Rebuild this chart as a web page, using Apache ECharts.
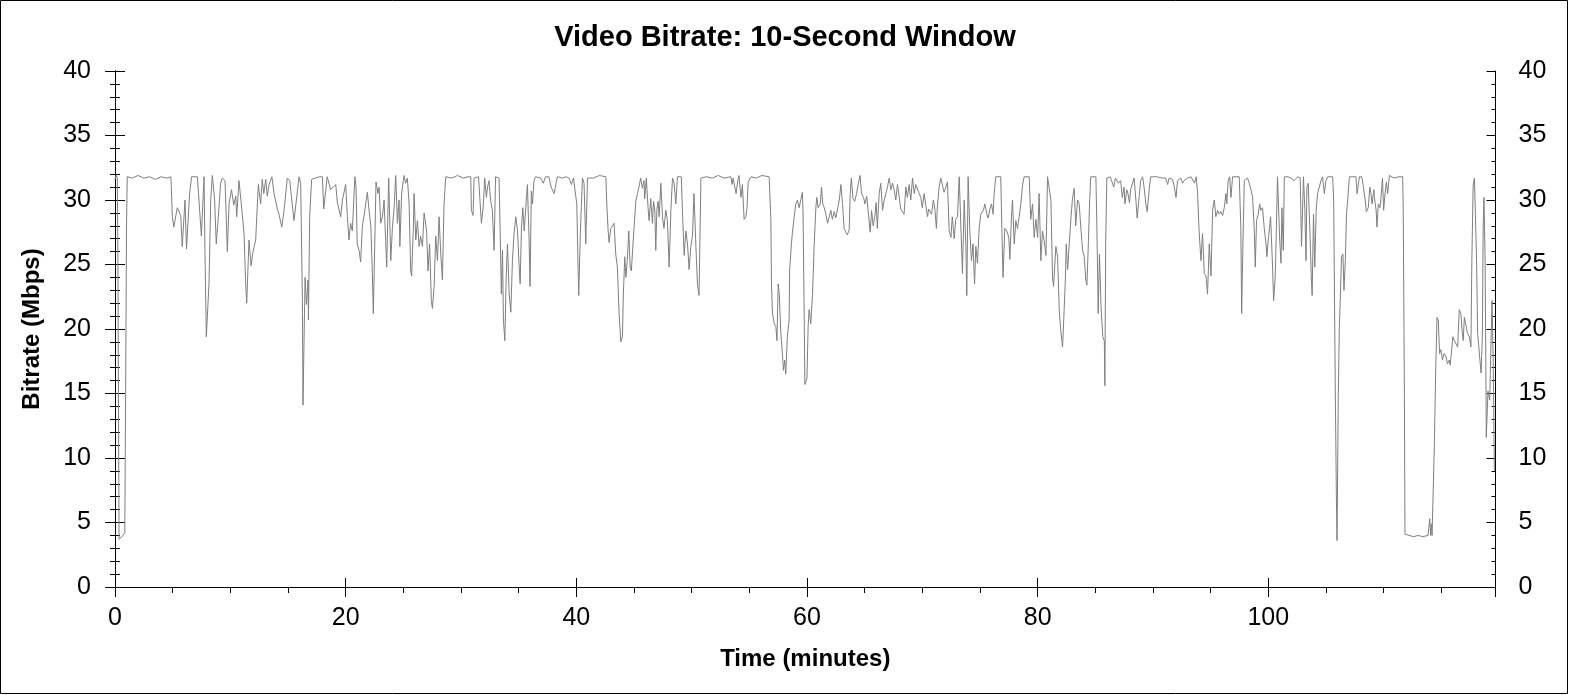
<!DOCTYPE html>
<html>
<head>
<meta charset="utf-8">
<script src="https://cdn.jsdelivr.net/npm/echarts@6/dist/echarts.min.js"></script>
<style>
html,body{margin:0;padding:0;background:#fff;}
#chart{width:1570px;height:695px;}
</style>
</head>
<body>
<div id="chart"></div>
<script>
const titleText = 'Video Bitrate: 10-Second Window';
const xName = 'Time (minutes)';
const yName = 'Bitrate (Mbps)';
const xTicks = [0, 20, 40, 60, 80, 100];
const yTicks = [0, 5, 10, 15, 20, 25, 30, 35, 40];

const minutes = [
0,0.1,0.2,0.25,0.35,0.5,0.7,0.85,0.92,1.0,1.06,1.5,2.0,2.5,3.0,3.5,4.0,4.5,4.85,
4.97,5.1,5.4,5.7,5.83,6.07,6.2,6.47,6.64,7.14,7.28,7.49,7.72,7.8,7.92,8.15,8.3,8.44,8.64,8.78,8.96,9.16,9.3,9.54,9.74,9.89,10.1,10.3,10.47,10.55,10.75,10.95,11.19,11.33,11.42,11.62,11.8,11.97,12.2,12.29,12.43,12.63,12.77,12.9,13.07,13.2,13.36,13.6,13.79,14.08,14.22,14.46,14.66,14.94,15.15,15.52,15.67,15.96,16.1,16.25,16.3,16.48,16.6,16.74,16.77,16.88,17.05,17.7,17.98,18.1,18.4,18.7,18.85,19.14,19.28,19.57,19.72,20.0,20.15,20.29,20.43,20.58,20.8,20.9,21.0,21.16,21.3,21.45,21.6,21.74,21.88,22.03,22.18,22.3,22.4,22.52,22.63,22.8,22.9,23.04,23.19,23.33,23.47,23.56,23.73,23.91,24.05,24.2,24.34,24.49,24.63,24.7,24.85,25.06,25.2,25.35,25.5,25.64,25.72,25.87,25.93,26.08,26.22,26.37,26.5,26.66,26.8,27.02,27.14,27.28,27.43,27.52,27.67,27.81,27.96,28.1,28.25,28.39,28.53,28.68,29.2,29.7,30.2,30.6,30.85,30.9,31.05,31.13,31.52,31.63,31.77,31.92,32.06,32.2,32.3,32.43,32.58,32.72,32.87,33.0,33.3,33.39,33.5,33.6,33.68,33.8,33.92,34.03,34.18,34.32,34.46,34.6,34.75,34.9,35.03,35.13,35.24,35.36,35.48,35.62,35.76,35.9,35.99,36.1,36.2,36.33,36.47,36.9,37.14,37.33,37.62,37.82,38.07,38.36,38.8,39.1,39.37,39.57,39.75,39.85,40.04,40.16,40.21,40.35,40.53,40.67,40.82,40.97,41.1,41.5,42.0,42.56,42.64,42.76,42.84,42.99,43.13,43.27,43.42,43.56,43.71,43.86,44.0,44.08,44.2,44.3,44.42,44.55,44.67,44.77,44.87,45.0,45.16,45.3,45.43,45.58,45.73,45.87,45.93,46.07,46.22,46.31,46.45,46.6,46.69,46.8,46.89,46.98,47.09,47.18,47.33,47.47,47.6,47.76,47.9,48.05,48.2,48.34,48.48,48.63,48.77,49.1,49.2,49.35,49.5,49.64,49.78,49.93,50.07,50.2,50.36,50.5,50.64,50.8,51.3,51.8,52.3,52.8,53.4,53.5,53.6,53.7,53.85,54.0,54.1,54.28,54.4,54.55,54.7,54.8,54.9,55.15,55.6,56.1,56.72,56.87,56.92,57.01,57.16,57.3,57.4,57.5,57.6,57.73,57.87,57.96,58.07,58.16,58.3,58.45,58.5,58.65,58.73,58.89,59.03,59.17,59.32,59.46,59.6,59.66,59.76,59.82,60.0,60.1,60.19,60.33,60.48,60.62,60.77,60.85,60.97,61.15,61.26,61.37,61.5,61.64,61.78,61.93,62.07,62.2,62.36,62.5,62.65,62.8,62.94,63.08,63.22,63.37,63.5,63.66,63.75,63.85,63.99,64.14,64.3,64.44,64.6,64.73,64.9,65.03,65.18,65.33,65.48,65.6,65.74,65.88,66.0,66.1,66.26,66.4,66.55,66.7,66.84,66.98,67.13,67.28,67.42,67.56,67.7,67.85,68.0,68.13,68.28,68.42,68.57,68.7,68.86,69.0,69.15,69.3,69.44,69.73,69.87,70.0,70.16,70.3,70.45,70.55,70.68,70.8,70.96,71.1,71.22,71.3,71.46,71.6,71.75,71.89,72.04,72.18,72.33,72.48,72.6,72.77,72.9,73.05,73.2,73.35,73.48,73.63,73.78,73.86,73.97,74.11,74.26,74.4,74.53,74.64,74.78,74.93,75.07,75.3,75.42,75.6,75.71,75.86,76.0,76.14,76.23,76.37,76.8,76.9,77.0,77.15,77.33,77.5,77.59,77.73,77.82,77.97,78.11,78.25,78.4,78.54,78.7,78.83,79.27,79.4,79.56,79.7,79.85,80.0,80.13,80.28,80.42,80.57,80.72,80.86,81.03,81.15,81.29,81.38,81.44,81.58,81.73,81.87,82.0,82.16,82.3,82.4,82.48,82.6,82.74,82.88,83.03,83.17,83.3,83.46,83.6,83.75,83.9,84.04,84.18,84.27,84.38,84.5,84.6,85.05,85.14,85.25,85.36,85.5,85.65,85.78,85.83,85.9,86.0,86.3,86.45,86.6,86.75,86.9,87.0,87.2,87.34,87.5,87.57,87.73,87.83,87.96,88.06,88.23,88.36,88.52,88.63,88.8,88.93,89.1,89.23,89.38,89.5,89.68,89.8,90.3,90.8,91.1,91.27,91.4,91.7,91.85,92.0,92.13,92.4,92.57,92.7,93.0,93.3,93.6,93.75,93.87,94.0,94.16,94.3,94.45,94.6,94.73,94.88,95.03,95.17,95.32,95.45,95.6,95.75,95.9,96.04,96.18,96.33,96.4,96.52,96.65,96.76,96.9,97.05,97.48,97.62,97.69,97.8,97.92,98.06,98.2,98.35,98.5,98.64,98.78,98.87,98.98,99.13,99.25,99.35,99.5,99.65,99.8,99.88,99.98,100.1,100.2,100.37,100.46,100.6,100.7,100.8,100.9,100.98,101.1,101.18,101.3,101.39,101.7,101.96,102.25,102.54,102.77,102.88,102.97,103.05,103.17,103.27,103.35,103.46,103.6,103.73,103.8,103.92,104.03,104.15,104.27,104.42,104.57,104.7,104.86,105.0,105.15,105.58,105.67,105.8,105.9,105.96,106.07,106.16,106.2,106.35,106.47,106.56,106.68,106.78,106.9,107.03,107.6,107.7,107.9,108.1,108.25,108.4,108.5,108.67,108.8,108.9,109.0,109.15,109.2,109.35,109.42,109.54,109.68,109.77,109.9,110.0,110.12,110.24,110.35,110.5,110.9,111.3,111.65,111.7,111.8,111.85,112.2,112.6,113.0,113.4,113.85,114.0,114.08,114.15,114.2,114.35,114.4,114.52,114.63,114.74,114.85,114.96,115.1,115.24,115.4,115.53,115.7,115.77,115.9,116.0,116.13,116.27,116.42,116.56,116.7,116.8,116.9,117.0,117.16,117.26,117.43,117.57,117.65,117.76,117.87,117.95,118.06,118.15,118.3,118.45,118.56,118.63,118.7,118.8,118.88,118.9,119.05,119.2,119.3,119.4,119.5,119.6
];

const mbps = [
31.6,31.9,31.7,26,3.7,3.8,4.0,4.2,15,28,31.8,31.7,31.9,31.7,31.8,31.6,31.8,31.7,31.8,
28.7,27.9,29.4,28.8,26.4,30.0,26.2,30.5,31.8,31.8,30.0,27.2,31.8,26,19.4,23.5,30,31.9,30.0,26.6,28.7,31.3,31.7,31.5,26,29.7,30.8,29.6,30.3,28.7,31.5,29.7,27.4,23.5,22.0,26.9,24.9,26,26.9,28.7,31.2,29.7,31.6,30.5,31.6,30.3,31.2,31.8,30.5,29.3,28.9,27.9,29.2,31.7,31.5,28.4,28.4,31.8,31.3,22.2,14.1,24.0,21.9,23.8,20.7,28.7,31.6,31.8,31.8,29.3,31.8,30.8,30.9,31.2,29.8,28.7,30.0,31.2,28.7,26.9,28.2,27.6,31.8,31.0,26.6,26.1,25.2,28.0,28.8,29.7,30.6,29.2,28,24.8,21.2,26.5,31.4,30.5,31.0,28.2,28.7,30.0,26.8,24.8,31.7,25.3,27.8,29.4,31.9,28.2,30.0,26.4,30.5,31.9,31.3,31.7,29.7,24.5,24.1,27.8,30.5,26.9,28.4,26.4,27.2,26.4,29,27.6,24.5,26.6,22.2,21.6,23.3,27.2,25.3,28.7,25.8,23.8,29.7,31.8,31.7,31.9,31.7,31.8,31.8,29.2,28.8,31.7,31.8,30.2,28.2,29.4,31.7,30.2,31.0,31.5,29.9,29.2,26.1,31.8,31.7,27.8,22.7,26.1,20.7,19.1,24,26.6,22.7,21.3,25.3,27.4,28.7,27.6,25.1,23.5,27.8,29.4,27.6,29.4,31.2,27.1,23.3,30.7,29.7,31.5,31.8,31.7,31.3,31.8,31.8,31.0,30.5,31.8,31.7,31.8,31.7,31.2,31.7,31.8,29.7,24.5,22.6,27.4,31.7,31.3,26.6,31.7,31.8,31.7,31.9,31.8,29.7,27.6,26.7,27.8,27.7,28.2,25.8,24.8,21.2,19.0,19.4,22.7,25.6,24.0,25.3,27.6,24.8,24.5,24.6,27.8,29.9,30.5,31.0,31.7,30.9,31.5,30.1,31.7,29.4,28.4,30.1,28.2,29.9,29.3,26.1,29.2,29.9,28.7,31.3,28.7,27.8,29.2,28.4,24.8,29.2,31.7,31.3,29.7,31.8,31.8,29.2,25.7,27.6,26.6,24.6,26.4,27.2,30.5,26.6,23.5,22.6,31.7,31.8,31.7,31.9,31.7,31.8,31.2,31.7,31.8,30.5,31.5,31.9,30.2,31.2,28.5,28.7,29.4,31.4,31.8,31.7,31.9,31.8,28.5,23.5,21.2,20.4,20.2,19.1,23.5,22.7,19.7,18.1,16.8,17.6,16.5,19.4,20.7,24.6,26.6,27.4,28.7,29.7,30.0,29.4,30.0,30.6,29.0,20.9,15.7,16.2,20.2,21.5,20.4,22.7,26.4,29.4,30.2,29.4,29.7,31.0,29.7,29.4,28.9,28.2,28.7,29.2,28.5,29.1,28.6,28.7,30,31.2,29.7,27.8,27.5,27.3,27.7,30.5,31.7,30.1,29.9,30.5,31.2,31.9,30.5,30.2,29.7,30.3,28.9,27.5,29.2,28.0,28.7,29.8,27.8,30.5,31.3,29.2,30.0,30.5,31.0,31.7,30.8,31.3,30.8,30.0,31.2,30.2,29.3,29.2,28.9,31.0,30.2,31.2,30.0,31.7,30.5,31.2,30.5,30.2,29.4,30.5,29.6,28.7,29.3,29.4,28.9,30.0,29.2,27.8,29.4,31.0,31.7,31.7,30.6,31.0,31.4,27.6,27.1,28.7,27.0,28.5,28.7,31.8,31.9,24.3,30.0,26.4,22.6,31.8,27.8,25.3,26.6,23.5,26.4,25.1,27.8,28.9,29.2,29.7,28.9,28.6,29.3,29.7,28.9,30.5,31.8,31.8,27.8,24.0,27.8,27.6,27.1,25.4,28.7,30.0,26.6,28.4,27.8,28.7,29.7,31.2,31.8,31.8,28.5,29.7,27.1,28.5,27.1,30.5,25.3,27.6,26.8,25.7,31.8,31.8,30.0,24.0,23.3,23.2,26.4,25.6,21.5,19.9,18.6,21.5,23.8,26.6,24.6,26.6,28.5,30.2,30.9,28.0,30.0,29.7,27.8,26.1,25.6,23.8,23.4,26.1,29.7,31.8,31.8,27.8,21.2,25.8,21.7,19.4,19.1,15.6,26.6,31.7,31.8,31.7,31.0,31.7,31.8,31.3,31.5,30.2,31.0,29.7,30.8,30.5,29.8,30.8,31.3,31.7,30.0,28.6,30.2,31.5,31.8,31.0,29.7,29.1,30.9,31.8,31.8,31.7,31.7,31.2,31.7,31.6,31.0,30.2,31.5,31.7,31.3,31.5,31.7,31.8,31.3,31.8,30.5,27.6,25.3,27.4,24.3,24.1,22.7,26.6,24.1,29.2,30.0,28.7,29.2,28.9,29.1,28.8,29.4,30.5,29.7,31.5,31.8,30.2,31.8,31.9,31.8,27.8,21.2,26.6,31.5,31.4,31.7,31.3,30.8,30.2,27.8,24.8,28.4,28.9,29.7,29.2,29.4,27.8,26.6,25.6,26.8,27.8,28.7,24.8,22.2,24.0,27.8,31.8,31.9,27.1,25.1,29.4,26.1,31.8,31.8,31.7,31.5,31.8,31.7,26.4,29.2,31.8,29.2,25.3,31.0,31.3,27.8,24.0,22.6,28.9,24.8,29.2,30.5,30.6,31.5,31.8,30.5,31.5,31.8,31.8,30.0,16.0,7.2,3.6,15.0,20.1,21.2,25.6,25.8,23.0,25.3,28.9,30.2,31.8,31.8,30.5,31.8,31.8,31.0,30.0,29.1,29.4,31.0,30.5,29.7,30.8,30.2,29.2,27.9,29.7,29.4,30.2,31.7,29.2,30.5,31.4,30.5,31.9,31.7,31.8,31.8,29.2,15.0,4.1,4.0,3.9,4.0,3.9,4.0,5.3,4.0,4.9,4.0,4.0,11.1,17.0,20.9,20.7,18.1,18.4,17.6,18.1,17.9,17.3,17.6,17.2,18.4,19.4,19.1,19.1,18.6,21.5,21.2,19.9,19.1,20.9,20.2,19.7,19.4,18.6,25.3,31.1,31.7,29.2,25.3,19.7,18.1,16.6,19.4,27.9,30.2,25.3,15.0,11.6,15.2,14.5,18.6,22.2,17.6,9.0
];

const points = minutes.map((t, i) => [t, mbps[i]]);

const FONT = '"Liberation Sans", Arial, sans-serif';
const X_MIN = 0, X_MAX = 119.7, Y_MIN = 0, Y_MAX = 40;

function xAxisDef(opts) {
  return Object.assign({
    type: 'value', min: X_MIN, max: X_MAX, interval: xTicks[1] - xTicks[0],
    splitLine: { show: false },
    axisLine: { show: true, lineStyle: { color: '#000', width: 1 } },
    axisLabel: { show: false },
    axisTick: { show: true, inside: false, length: 10, lineStyle: { color: '#000', width: 1 } },
    minorTick: { show: false },
    minorSplitLine: { show: false }
  }, opts);
}
function yAxisDef(opts) {
  return Object.assign({
    type: 'value', min: Y_MIN, max: Y_MAX, interval: yTicks[1] - yTicks[0],
    splitLine: { show: false },
    axisLine: { show: true, lineStyle: { color: '#000', width: 1 } },
    axisLabel: { show: false },
    axisTick: { show: true, inside: false, length: 10, lineStyle: { color: '#000', width: 1 } },
    minorTick: { show: true, splitNumber: 5, length: 5, lineStyle: { color: '#000', width: 1 } },
    minorSplitLine: { show: false }
  }, opts);
}

const labelX = {
  show: true, fontSize: 25, fontFamily: FONT, color: '#000', margin: 19,
  showMaxLabel: false,
  formatter: v => (xTicks.indexOf(Math.round(v * 1000) / 1000) >= 0 ? String(v) : '')
};
const labelY = (margin) => ({
  show: true, fontSize: 25, fontFamily: FONT, color: '#000', margin: margin,
  formatter: v => (yTicks.indexOf(v) >= 0 ? String(v) : '')
});

const chart = echarts.init(document.getElementById('chart'), null, { renderer: 'canvas' });
chart.setOption({
  animation: false,
  backgroundColor: '#fff',
  title: {
    text: titleText, left: 'center', top: 18,
    textStyle: { fontSize: 29, fontWeight: 'bold', fontFamily: FONT, color: '#000' }
  },
  graphic: [{
    type: 'rect', silent: true,
    shape: { x: 0.5, y: 0.5, width: 1567, height: 693 },
    style: { fill: 'none', stroke: '#000', lineWidth: 1 }
  }],
  grid: { left: 115, right: 74.5, top: 71, bottom: 108, containLabel: false },
  xAxis: [
    xAxisDef({
      position: 'bottom', axisLabel: labelX,
      axisTick: { show: true, inside: false, length: 10, lineStyle: { color: '#000', width: 1 } },
      minorTick: { show: true, splitNumber: 4, length: 4, lineStyle: { color: '#000', width: 1 } },
      name: xName, nameLocation: 'middle', nameGap: 60,
      nameTextStyle: { fontSize: 24, fontWeight: 'bold', fontFamily: FONT, color: '#000' }
    }),
    xAxisDef({
      position: 'bottom',
      axisTick: { show: true, inside: true, length: 9, lineStyle: { color: '#000', width: 1 } }
    }),
    xAxisDef({
      position: 'top',
      axisTick: { show: true, inside: true, length: 10, lineStyle: { color: '#000', width: 1 } },
      minorTick: { show: true, splitNumber: 4, length: 6, lineStyle: { color: '#000', width: 1 } }
    })
  ],
  yAxis: [
    yAxisDef({
      position: 'left', axisLabel: labelY(24),
      name: yName, nameLocation: 'middle', nameGap: 71,
      nameTextStyle: { fontSize: 24, fontWeight: 'bold', fontFamily: FONT, color: '#000' }
    }),
    yAxisDef({
      position: 'left',
      axisTick: { show: true, inside: true, length: 9, lineStyle: { color: '#000', width: 1 } },
      minorTick: { show: true, splitNumber: 5, length: 4, lineStyle: { color: '#000', width: 1 } }
    }),
    yAxisDef({ position: 'right', axisLabel: labelY(23) }),
    yAxisDef({
      position: 'right',
      axisTick: { show: true, inside: true, length: 9, lineStyle: { color: '#000', width: 1 } },
      minorTick: { show: true, splitNumber: 5, length: 4, lineStyle: { color: '#000', width: 1 } }
    })
  ],
  series: [{
    type: 'line', xAxisIndex: 0, yAxisIndex: 0,
    data: points, showSymbol: false, symbol: 'none',
    lineStyle: { color: '#7f7f7f', width: 1 },
    itemStyle: { color: '#7f7f7f' },
    sampling: null, clip: true, silent: true
  }]
});
</script>
</body>
</html>
